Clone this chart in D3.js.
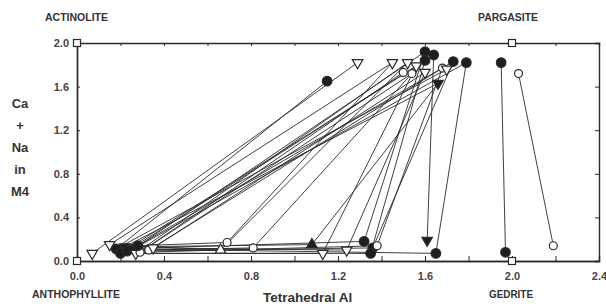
<!DOCTYPE html>
<html><head><meta charset="utf-8">
<script src="https://cdn.jsdelivr.net/npm/d3@7"></script>
<style>body{margin:0;background:#fff}svg{display:block}</style>
</head><body><svg id="c" width="606" height="304"></svg>
<script>
// ---- data ----
const xTickValues = [0.0, 0.4, 0.8, 1.2, 1.6, 2.0, 2.4];
const yTickValues = [0.0, 0.4, 0.8, 1.2, 1.6, 2.0];
const xMinorTicks = [0.2, 0.6, 1.0, 1.4, 1.8, 2.2];
const yTitleLines = ["Ca", "+", "Na", "in", "M4"];
const xTitle = "Tetrahedral Al";
// end members: [name, x, y]
const endMembers = [["ACTINOLITE", 0, 2], ["PARGASITE", 2, 2], ["ANTHOPHYLLITE", 0, 0], ["GEDRITE", 2, 0]];
// symbols: ot = open triangle down, ou = open triangle up, oc = open circle,
// fc = filled circle, ft = filled triangle down, fu = filled triangle up
// calcic amphiboles (high Ca+Na): [id, x, y, symbol]
const calcic = [
  ["H1", 1.15, 1.65, "fc"], ["H2", 1.29, 1.82, "ot"], ["H3", 1.45, 1.82, "ot"],
  ["H4", 1.52, 1.82, "ot"], ["H5", 1.56, 1.79, "ot"], ["H6", 1.54, 1.72, "oc"],
  ["H7", 1.50, 1.73, "oc"], ["H8", 1.60, 1.73, "ot"], ["H9", 1.60, 1.92, "fc"],
  ["H10", 1.60, 1.84, "fc"], ["H11", 1.64, 1.89, "fc"], ["H12", 1.68, 1.77, "oc"],
  ["H13", 1.73, 1.83, "fc"], ["H14", 1.79, 1.82, "fc"], ["H15", 1.95, 1.82, "fc"],
  ["H16", 2.03, 1.72, "oc"], ["H17", 1.66, 1.63, "ft"], ["H18", 1.70, 1.76, "ot"]
];
// anthophyllites (low Al): [id, x, y, symbol]
const anthophyllite = [
  ["a1", 0.07, 0.07, "ot"], ["a2", 0.15, 0.15, "ot"], ["a3", 0.18, 0.11, "fc"],
  ["a4", 0.20, 0.07, "fc"], ["a5", 0.22, 0.13, "ft"], ["a6", 0.23, 0.09, "fc"],
  ["a7", 0.26, 0.11, "fc"], ["a8", 0.27, 0.07, "ot"], ["a9", 0.29, 0.08, "oc"],
  ["a10", 0.33, 0.10, "oc"], ["a11", 0.35, 0.12, "ot"], ["a12", 0.28, 0.14, "fc"]
];
// gedrites (high Al, low Ca+Na): [id, x, y, symbol]
const gedrite = [
  ["M1", 0.69, 0.17, "oc"], ["M2", 0.66, 0.10, "ou"], ["M3", 0.81, 0.12, "oc"],
  ["M4", 1.08, 0.15, "fu"], ["M5", 1.13, 0.07, "ot"], ["M6", 1.24, 0.10, "ot"],
  ["M7", 1.32, 0.18, "fc"], ["M8", 1.36, 0.12, "fc"], ["M9", 1.35, 0.07, "fc"],
  ["M10", 1.38, 0.14, "oc"], ["G1", 1.61, 0.19, "ft"], ["G2", 1.65, 0.07, "fc"],
  ["G3", 1.97, 0.08, "fc"], ["G4", 2.19, 0.14, "oc"]
];
// tie lines between coexisting amphiboles: [from id, to id]
const tieLines = [
  ["a1", "H2"], ["a2", "H3"], ["a3", "H1"], ["a4", "H10"], ["a5", "H17"],
  ["a6", "H11"], ["a7", "H9"], ["a8", "H4"], ["a9", "H6"], ["a10", "H12"],
  ["a11", "H8"], ["a12", "H13"], ["a7", "H14"], ["a9", "H7"], ["a3", "H18"],
  ["M1", "H3"], ["M2", "H4"], ["M3", "H6"], ["M4", "H17"], ["M5", "H5"],
  ["M6", "H8"], ["M7", "H9"], ["M8", "H13"], ["M9", "H10"], ["M10", "H12"],
  ["a3", "M7"], ["a4", "M9"], ["a6", "M8"], ["a5", "M4"], ["a8", "M5"],
  ["a11", "M6"], ["a10", "M3"], ["a9", "M10"], ["a7", "G2"], ["a12", "M1"], ["a2", "M2"],
  ["G1", "H11"], ["G2", "H14"], ["G3", "H15"], ["G4", "H16"]
];

// ---- chart ----
const svg = d3.select("#c");
const x = d3.scaleLinear().domain([0, 2.4]).range([77, 599]);
const y = d3.scaleLinear().domain([0, 2]).range([261, 43]);
const ink = "#2a2a2a";
const font = "'Liberation Sans', Arial, sans-serif";

const allPts = new Map();
[...calcic, ...anthophyllite, ...gedrite].forEach(p => allPts.set(p[0], p));

// frame axes
const innerX = [...xTickValues, ...xMinorTicks].filter(v => v > 0 && v < 2.4);
const innerY = yTickValues.filter(v => v > 0 && v < 2);
const gB = svg.append("g").attr("transform", `translate(0,${y(0)})`)
  .call(d3.axisBottom(x).tickValues(xTickValues).tickSize(0).tickPadding(11).tickFormat(d3.format(".1f")));
const gL = svg.append("g").attr("transform", `translate(${x(0)},0)`)
  .call(d3.axisLeft(y).tickValues(yTickValues).tickSize(0).tickPadding(8).tickFormat(d3.format(".1f")));
const gT = svg.append("g").attr("transform", `translate(0,${y(2)})`)
  .call(d3.axisBottom(x).tickValues(innerX).tickSize(3).tickFormat(""));
const gBi = svg.append("g").attr("transform", `translate(0,${y(0)})`)
  .call(d3.axisTop(x).tickValues(innerX).tickSize(5).tickFormat(""));
const gLi = svg.append("g").attr("transform", `translate(${x(0)},0)`)
  .call(d3.axisRight(y).tickValues(innerY).tickSize(3).tickFormat(""));
const gR = svg.append("g").attr("transform", `translate(${x(2.4)},0)`)
  .call(d3.axisLeft(y).tickValues(innerY).tickSize(4).tickFormat(""));
[gB, gL, gT, gBi, gLi, gR].forEach(g => {
  g.selectAll(".domain").attr("stroke", ink).attr("stroke-width", 1.4);
  g.selectAll(".tick line").attr("stroke", ink).attr("stroke-width", 1);
  g.selectAll(".tick text").attr("fill", "#444").attr("font-family", font)
    .attr("font-size", 11).attr("font-weight", "bold");
});
gB.select(".domain").attr("stroke-width", 1.6);

// tie lines
svg.append("g").selectAll("line").data(tieLines).join("line")
  .attr("x1", d => x(allPts.get(d[0])[1])).attr("y1", d => y(allPts.get(d[0])[2]))
  .attr("x2", d => x(allPts.get(d[1])[1])).attr("y2", d => y(allPts.get(d[1])[2]))
  .attr("stroke", ink).attr("stroke-width", 0.9);

// markers
const symFor = s => {
  if (s === "oc" || s === "fc") return d3.symbol(d3.symbolCircle, s === "fc" ? 72 : 50)();
  return d3.symbol(d3.symbolTriangle, 48)();
};
const pts = [...gedrite, ...anthophyllite, ...calcic];
svg.append("g").selectAll("path").data(pts).join("path")
  .attr("d", d => symFor(d[3]))
  .attr("transform", d => `translate(${x(d[1])},${y(d[2])})` + ((d[3] === "ot" || d[3] === "ft") ? " rotate(180)" : ""))
  .attr("fill", d => d[3][0] === "f" ? "#1e1e1e" : "#fff")
  .attr("stroke", ink).attr("stroke-width", 1.2);

// end-member squares and labels
svg.append("g").selectAll("rect").data(endMembers).join("rect")
  .attr("x", d => x(d[1]) - 3.5).attr("y", d => y(d[2]) - 3.5)
  .attr("width", 7).attr("height", 7)
  .attr("fill", "#fff").attr("stroke", ink).attr("stroke-width", 1.2);
const emLabelPos = { "ACTINOLITE": [45, 21, 63], "PARGASITE": [478, 21, 60], "ANTHOPHYLLITE": [32, 298, 88], "GEDRITE": [489, 298, 44] };
svg.append("g").selectAll("text").data(endMembers).join("text")
  .attr("x", d => emLabelPos[d[0]][0]).attr("y", d => emLabelPos[d[0]][1])
  .attr("textLength", d => emLabelPos[d[0]][2]).attr("lengthAdjust", "spacingAndGlyphs")
  .attr("font-family", font).attr("font-size", 10).attr("font-weight", "bold")
  .attr("fill", "#333").text(d => d[0]);

// axis titles
svg.append("text").attr("x", 263).attr("y", 302).attr("text-anchor", "start")
  .attr("font-family", font).attr("font-size", 13.5).attr("font-weight", "bold")
  .attr("fill", "#333").text(xTitle);
svg.append("g").selectAll("text").data(yTitleLines).join("text")
  .attr("x", 20).attr("y", (d, i) => 108 + i * 22).attr("text-anchor", "middle")
  .attr("font-family", font).attr("font-size", 13).attr("font-weight", "bold")
  .attr("fill", "#333").text(d => d);
</script></body></html>
